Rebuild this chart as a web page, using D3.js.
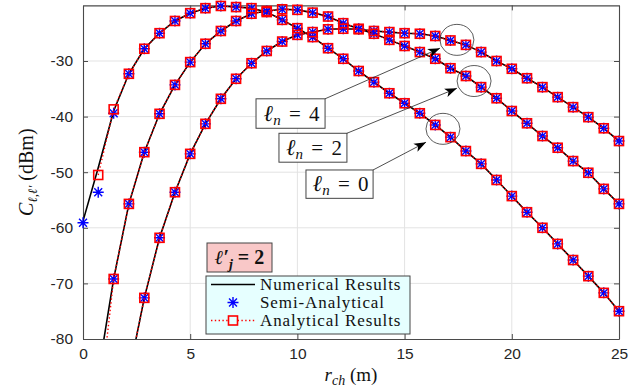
<!DOCTYPE html>
<html>
<head>
<meta charset="utf-8">
<script src="https://cdn.jsdelivr.net/npm/d3@7"></script>
<style>
    body { margin: 0; background: #fff; }
    .tick text { font-family: "Liberation Sans", Arial, sans-serif; font-size: 15.5px; fill: #262626; }
    .tex { font-family: "Liberation Serif", "DejaVu Serif", serif; fill: #111; }
</style>
</head>
<body>
<div id="chart"></div>
<script>
// sample points of r_ch (m)
let rch = [0, 0.71, 1.43, 2.14, 2.86, 3.57, 4.29, 5, 5.71, 6.43, 7.14, 7.86, 8.57, 9.29, 10, 10.71,
    11.43, 12.14, 12.86, 13.57, 14.29, 15, 15.71, 16.43, 17.14, 17.86, 18.57, 19.29, 20, 20.71,
    21.43, 22.14, 22.86, 23.57, 24.29, 25];

// l_n = 0
let num0 = [-58.8, -49.2, -39.0, -32.3, -27.8, -25.0, -22.8, -21.4, -20.5, -20.1, -20.3, -20.5, -21.2,
    -22.6, -24.1, -25.7, -27.7, -29.6, -31.8, -33.8, -35.8, -37.6, -39.4, -41.5, -43.7, -46.2, -48.5,
    -51.4, -54.3, -57.2, -60.0, -62.9, -65.8, -68.7, -71.7, -75.0];
let semi0 = [-59.1, -53.6, -39.4, -32.3, -27.8, -25.0, -22.8, -21.4, -20.5, -20.1, -20.3, -20.5, -21.2,
    -22.6, -24.1, -25.7, -27.7, -29.6, -31.8, -33.8, -35.8, -37.6, -39.4, -41.5, -43.7, -46.2, -48.5,
    -51.4, -54.3, -57.2, -60.0, -62.9, -65.8, -68.7, -71.7, -75.0];
let ana0 = [null, -50.5, -38.7, -32.3, -27.8, -25.0, -22.8, -21.4, -20.5, -20.1, -20.3, -20.5, -21.2,
    -22.6, -24.1, -25.7, -27.7, -29.6, -31.8, -33.8, -35.8, -37.6, -39.4, -41.5, -43.7, -46.2, -48.5,
    -51.4, -54.3, -57.2, -60.0, -62.9, -65.8, -68.7, -71.7, -75.0];

// l_n = 2
let num2 = [null, -86.3, -69.2, -55.7, -46.4, -39.5, -34.3, -30.2, -26.9, -24.6, -22.8, -21.5, -21.0,
    -20.7, -20.8, -21.3, -22.0, -23.2, -24.2, -25.1, -26.2, -27.3, -28.4, -29.6, -31.3, -32.7, -34.7,
    -36.7, -39.0, -41.2, -43.5, -45.6, -48.0, -50.1, -53.0, -55.7];
let semi2 = num2.slice();
let ana2 = [null, -94.0, -69.2, -55.7, -46.4, -39.5, -34.3, -30.2, -26.9, -24.6, -22.8, -21.5, -21.0,
    -20.7, -20.8, -21.3, -22.0, -23.2, -24.2, -25.1, -26.2, -27.3, -28.4, -29.6, -31.3, -32.7, -34.7,
    -36.7, -39.0, -41.2, -43.5, -45.6, -48.0, -50.1, -53.0, -55.7];

// l_n = 4
let num4 = [null, null, null, -86.3, -72.6, -61.8, -53.6, -46.7, -41.3, -36.8, -33.2, -30.4, -28.2,
    -26.5, -25.3, -24.8, -24.3, -24.2, -24.3, -24.6, -24.8, -25.0, -25.1, -25.5, -26.3, -27.1, -28.4,
    -30.0, -31.4, -33.1, -34.7, -36.5, -38.3, -40.1, -42.1, -44.4];
let semi4 = num4.slice();
let ana4 = num4.slice();

let xTicks = [0, 5, 10, 15, 20, 25];
let yTicks = [-80, -70, -60, -50, -40, -30];
let legendLabels = ["Numerical Results", "Semi-Analytical", "Analytical Results"];

// annotation boxes: [label digit, box x0, x1, y0, y1, arrow tip x, y, circle x, y]
let notes = [
    ["4", 8.07, 11.29, -36.8, -42.1, 16.65, -27.7, 17.44, -26.2],
    ["2", 9.14, 12.31, -43.0, -48.2, 17.44, -34.9, 18.24, -33.6],
    ["0", 10.40, 13.53, -49.6, -54.7, 16.00, -44.6, 16.79, -42.2]
];

let width = 637, height = 388;
let margin = {top: 5.4, right: 18, bottom: 49, left: 83};

let x = d3.scaleLinear().domain([0, 25]).range([margin.left, width - margin.right]);
let y = d3.scaleLinear().domain([-80, -20]).range([height - margin.bottom, margin.top]);

let svg = d3.select("#chart").append("svg")
    .attr("width", width)
    .attr("height", height);

svg.append("defs").append("clipPath").attr("id", "clip")
    .append("rect")
    .attr("x", x(0)).attr("y", y(-20))
    .attr("width", x(25) - x(0)).attr("height", y(-80) - y(-20));

let marker = svg.select("defs").append("marker")
    .attr("id", "head")
    .attr("viewBox", "0 -5 12 10")
    .attr("refX", 12).attr("refY", 0)
    .attr("markerWidth", 12).attr("markerHeight", 10)
    .attr("markerUnits", "userSpaceOnUse")
    .attr("orient", "auto");
marker.append("path").attr("d", "M0,-4.5L12,0L0,4.5L3,0Z").attr("fill", "#000");

// grid
svg.append("g").selectAll("line").data(xTicks.slice(1, -1)).enter().append("line")
    .attr("x1", d => x(d)).attr("x2", d => x(d))
    .attr("y1", y(-80)).attr("y2", y(-20))
    .attr("stroke", "#e3e3e3").attr("stroke-width", 1);
svg.append("g").selectAll("line").data(yTicks.slice(1)).enter().append("line")
    .attr("x1", x(0)).attr("x2", x(25))
    .attr("y1", d => y(d)).attr("y2", d => y(d))
    .attr("stroke", "#e3e3e3").attr("stroke-width", 1);

// axes (box with inner ticks); plain hyphen for negatives like the original
let axisColor = "#4a4a4a";
let fmt = d => String(d);
let gx = svg.append("g").attr("transform", "translate(0," + y(-80) + ")")
    .call(d3.axisBottom(x).tickValues(xTicks).tickFormat(fmt).tickSizeInner(-5).tickSizeOuter(0).tickPadding(9));
let gxTop = svg.append("g").attr("transform", "translate(0," + y(-20) + ")")
    .call(d3.axisTop(x).tickValues(xTicks).tickSizeInner(-5).tickSizeOuter(0).tickFormat(""));
let gy = svg.append("g").attr("transform", "translate(" + x(0) + ",0)")
    .call(d3.axisLeft(y).tickValues(yTicks).tickFormat(fmt).tickSizeInner(-5).tickSizeOuter(0).tickPadding(10));
let gyRight = svg.append("g").attr("transform", "translate(" + x(25) + ",0)")
    .call(d3.axisRight(y).tickValues(yTicks).tickSizeInner(-5).tickSizeOuter(0).tickFormat(""));
[gx, gxTop, gy, gyRight].forEach(function (g) {
    g.select(".domain").attr("stroke", axisColor).attr("stroke-width", 1.1);
    g.selectAll(".tick line").attr("stroke", axisColor);
});

function pairs(vals) {
    return rch.map(function (r, i) { return [r, vals[i]]; });
}

let line = d3.line()
    .defined(d => d[1] != null)
    .x(d => x(d[0]))
    .y(d => y(d[1]));

function starPath(r) {
    let s = r * 0.72;
    return "M" + (-r) + ",0H" + r + "M0," + (-r) + "V" + r +
        "M" + (-s) + "," + (-s) + "L" + s + "," + s + "M" + (-s) + "," + s + "L" + s + "," + (-s);
}

let curves = [[num0, semi0, ana0], [num2, semi2, ana2], [num4, semi4, ana4]];
let plot = svg.append("g");

curves.forEach(function (c) {
    plot.append("path")
        .datum(pairs(c[0]))
        .attr("clip-path", "url(#clip)")
        .attr("d", line)
        .attr("fill", "none")
        .attr("stroke", "#000")
        .attr("stroke-width", 1.6);
});

curves.forEach(function (c) {
    plot.append("g").selectAll("path")
        .data(pairs(c[1]).filter(d => d[1] != null && d[1] >= -80))
        .enter().append("path")
        .attr("transform", d => "translate(" + x(d[0]) + "," + y(d[1]) + ")")
        .attr("d", starPath(5.5))
        .attr("stroke", "#0000ff")
        .attr("stroke-width", 1.4);
});

curves.forEach(function (c) {
    plot.append("path")
        .datum(pairs(c[2]))
        .attr("clip-path", "url(#clip)")
        .attr("d", line)
        .attr("fill", "none")
        .attr("stroke", "#ff0000")
        .attr("stroke-width", 1.4)
        .attr("stroke-dasharray", "1.4,2.4");
    plot.append("g").selectAll("rect")
        .data(pairs(c[2]).filter(d => d[1] != null && d[1] >= -80))
        .enter().append("rect")
        .attr("x", d => x(d[0]) - 4.5)
        .attr("y", d => y(d[1]) - 4.5)
        .attr("width", 9).attr("height", 9)
        .attr("fill", "none")
        .attr("stroke", "#ff0000")
        .attr("stroke-width", 1.6);
});

// annotations: l_n boxes, arrows, ellipses
notes.forEach(function (n) {
    let g = svg.append("g");
    g.append("rect")
        .attr("x", x(n[1])).attr("y", y(n[3]))
        .attr("width", x(n[2]) - x(n[1])).attr("height", y(n[4]) - y(n[3]))
        .attr("fill", "#fff").attr("stroke", "#444").attr("stroke-width", 1);
    let t = g.append("text").attr("class", "tex")
        .attr("x", (x(n[1]) + x(n[2])) / 2 + 1)
        .attr("y", y(n[4]) - 7)
        .attr("text-anchor", "middle")
        .style("font-size", "21px")
        .style("word-spacing", "3px");
    t.append("tspan").attr("font-style", "italic").style("font-size", "23px").text("ℓ");
    t.append("tspan").attr("font-style", "italic").attr("dy", 4).style("font-size", "15px").text("n");
    t.append("tspan").attr("dy", -4).text(" = " + n[0]);
    g.append("line")
        .attr("x1", x(n[2])).attr("y1", y(n[3]))
        .attr("x2", x(n[5])).attr("y2", y(n[6]))
        .attr("stroke", "#222").attr("stroke-width", 0.8)
        .attr("marker-end", "url(#head)");
    g.append("ellipse")
        .attr("cx", x(n[7])).attr("cy", y(n[8]))
        .attr("rx", 17).attr("ry", 15.5)
        .attr("fill", "none").attr("stroke", "#333").attr("stroke-width", 0.8);
});

// l'_j = 2 box
let lj = svg.append("g");
lj.append("rect")
    .attr("x", 207).attr("y", 243).attr("width", 65).attr("height", 29)
    .attr("fill", "#f9c8c8").attr("stroke", "#444").attr("stroke-width", 1);
let ljt = lj.append("text").attr("class", "tex")
    .attr("x", 239.5).attr("y", 264).attr("text-anchor", "middle")
    .style("font-size", "20px").style("font-weight", "bold");
ljt.append("tspan").attr("font-style", "italic").text("ℓ′");
ljt.append("tspan").attr("font-style", "italic").attr("dy", 5).style("font-size", "14px").text("j");
ljt.append("tspan").attr("dy", -5).text(" = 2");

// main legend
let leg = svg.append("g").attr("transform", "translate(206,276)");
leg.append("rect")
    .attr("width", 204).attr("height", 58)
    .attr("fill", "#e6ffff").attr("stroke", "#444").attr("stroke-width", 1);
let rowY = [8.5, 26.5, 44.5];
leg.append("line").attr("x1", 5).attr("x2", 49).attr("y1", rowY[0]).attr("y2", rowY[0])
    .attr("stroke", "#000").attr("stroke-width", 1.6);
leg.append("path").attr("transform", "translate(27," + rowY[1] + ")")
    .attr("d", starPath(5.5)).attr("stroke", "#0000ff").attr("stroke-width", 1.4);
leg.append("line").attr("x1", 5).attr("x2", 49).attr("y1", rowY[2]).attr("y2", rowY[2])
    .attr("stroke", "#ff0000").attr("stroke-width", 1.4).attr("stroke-dasharray", "1.4,2.4");
leg.append("rect").attr("x", 22.5).attr("y", rowY[2] - 4.5).attr("width", 9).attr("height", 9)
    .attr("fill", "#e6ffff").attr("stroke", "#ff0000").attr("stroke-width", 1.6);
leg.selectAll("text.lab").data(legendLabels).enter().append("text")
    .attr("class", "tex lab")
    .attr("x", 54).attr("y", (d, i) => rowY[i] + 5.5)
    .style("font-size", "17px")
    .style("letter-spacing", "0.9px")
    .text(d => d);

// axis labels
let xl = svg.append("text").attr("class", "tex")
    .attr("x", (x(0) + x(25)) / 2).attr("y", 381).attr("text-anchor", "middle")
    .style("font-size", "19px");
xl.append("tspan").attr("font-style", "italic").text("r");
xl.append("tspan").attr("font-style", "italic").attr("dy", 4).style("font-size", "14px").text("ch");
xl.append("tspan").attr("dy", -4).text("  (m)");

let yl = svg.append("text").attr("class", "tex")
    .attr("transform", "translate(33," + ((y(-20) + y(-80)) / 2) + ") rotate(-90)")
    .attr("text-anchor", "middle")
    .style("font-size", "20px");
yl.append("tspan").attr("font-style", "italic").text("C");
yl.append("tspan").attr("font-style", "italic").attr("dy", 4).style("font-size", "13px").text("ℓ,ℓ′");
yl.append("tspan").attr("dy", -4).text("  (dBm)");
</script>
</body>
</html>
